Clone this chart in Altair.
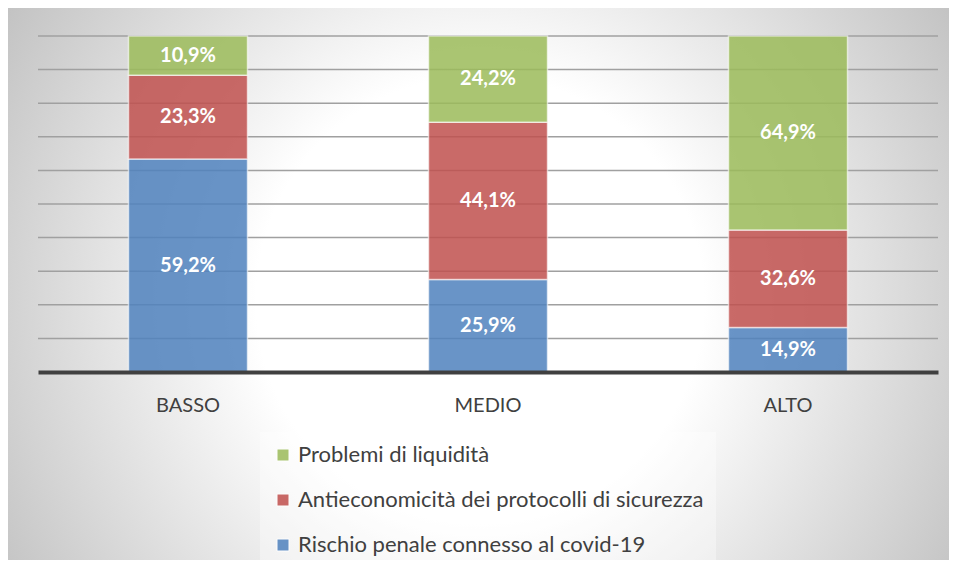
import altair as alt
import pandas as pd

# ---- data ----
categories = ["BASSO", "MEDIO", "ALTO"]
series = [
    "Rischio penale connesso al covid-19",
    "Antieconomicità dei protocolli di sicurezza",
    "Problemi di liquidità",
]
rischio = [59.2, 25.9, 14.9]
antieconomicita = [23.3, 44.1, 32.6]
liquidita = [10.9, 24.2, 64.9]
series_colors = ["#4F81BD", "#C0504D", "#9BBB59"]
grid_ticks = [0.1, 0.2, 0.3, 0.4, 0.5, 0.6, 0.7, 0.8, 0.9, 1.0]

# legend order (top to bottom) in the reference
legend_order = [series[2], series[1], series[0]]
legend_colors = [series_colors[2], series_colors[1], series_colors[0]]

rows = []
for i, cat in enumerate(categories):
    for k, vals in enumerate([rischio, antieconomicita, liquidita]):
        rows.append({"cat": cat, "serie": series[k], "ord": k, "val": vals[i]})
df = pd.DataFrame(rows)

yscale = alt.Scale(domain=[0, 1])
xscale = alt.Scale(paddingInner=0, paddingOuter=0)

# ---- background (radial grey gradient) ----
bg = alt.Chart(alt.Data(values=[{}])).mark_rect(
    fill=alt.RadialGradient(
        gradient="radial",
        x1=0.5, y1=0.5, r1=0,
        x2=0.5, y2=0.5, r2=0.56,
        stops=[
            alt.GradientStop(offset=0, color="#ffffff"),
            alt.GradientStop(offset=0.4, color="#ffffff"),
            alt.GradientStop(offset=1, color="#c2c2c2"),
        ],
    )
).encode(
    x=alt.value(-58), x2=alt.value(942), y=alt.value(-236), y2=alt.value(764)
)

# ---- horizontal gridlines ----
grid = alt.Chart(pd.DataFrame({"g": grid_ticks})).mark_rule(
    color="#a0a0a0", strokeWidth=1.5
).encode(y=alt.Y("g:Q", scale=yscale, axis=None))

base = alt.Chart(df).transform_stack(
    stack="val",
    groupby=["cat"],
    offset="normalize",
    sort=[alt.SortField("ord", order="ascending")],
    as_=["v0", "v1"],
).transform_calculate(
    mid="(datum.v0 + datum.v1) / 2",
    lab="replace(format(datum.val, '.1f'), '.', ',') + '%'",
)

xenc = alt.X(
    "cat:N",
    sort=categories,
    scale=xscale,
    axis=alt.Axis(
        title=None,
        labelAngle=0,
        labelFont="Lato",
        labelFontSize=20,
        labelColor="#404040",
        labelPadding=39,
        labelBaseline="alphabetic",
        ticks=False,
        tickSize=0,
        grid=False,
        domain=True,
        domainColor="#404040",
        domainWidth=4,
        zindex=1,
    ),
)

bars = base.mark_bar(
    width=119, fillOpacity=0.85, stroke="white", strokeWidth=1.5, strokeOpacity=0.6
).encode(
    x=xenc,
    y=alt.Y("v0:Q", scale=yscale, axis=None),
    y2="v1:Q",
    color=alt.Color(
        "serie:N",
        scale=alt.Scale(domain=legend_order, range=legend_colors),
        legend=alt.Legend(
            orient="none",
            legendX=222,
            legendY=396,
            direction="vertical",
            title=None,
            labelFont="Lato",
            labelFontSize=22,
            labelColor="#404040",
            labelLimit=600,
            labelOffset=4,
            symbolType="square",
            symbolSize=144,
            symbolOpacity=0.85,
            symbolStrokeColor="#ffffff",
            symbolStrokeWidth=1,
            rowPadding=23,
            padding=12,
            fillColor="rgba(255,255,255,0.35)",
        ),
    ),
)

labels = base.mark_text(
    font="Lato", fontWeight="bold", fontSize=20, color="white", baseline="middle"
).encode(
    x=alt.X("cat:N", sort=categories, scale=xscale),
    y=alt.Y("mid:Q", scale=yscale, axis=None),
    text="lab:N",
)

chart = alt.layer(bg, grid, bars, labels).properties(
    width=900,
    height=336,
    padding={"left": 30, "top": 28, "right": 11, "bottom": 188},
    autosize=alt.AutoSizeParams(type="none"),
).configure_view(stroke=None)

chart.save("out.html", embed_options={"renderer": "svg", "actions": False})
